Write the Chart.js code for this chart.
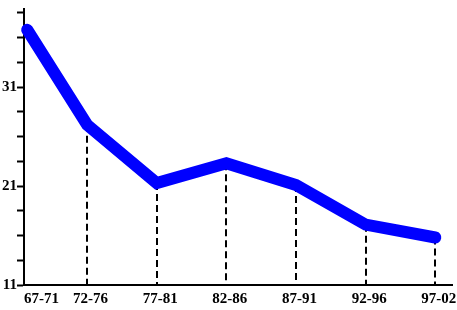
<!DOCTYPE html>
<html>
<head>
<meta charset="utf-8">
<script src="https://cdn.jsdelivr.net/npm/chart.js@4"></script>
<style>
  html, body { margin: 0; padding: 0; background: #fff; }
  #wrap { width: 457px; height: 310px; }
</style>
</head>
<body>
<div id="wrap"><canvas id="c"></canvas></div>
<script>
// periods and values
const periods = ["67-71", "72-76", "77-81", "82-86", "87-91", "92-96", "97-02"]
const periodX = [67.7, 72, 77, 82, 87, 92, 97]
const values = [36.8, 27.2, 21.3, 23.3, 21.1, 17.1, 15.8]
const yLabels = [11, 21, 31]

const font = { family: "'Liberation Serif', 'DejaVu Serif', serif", size: 15, weight: 'bold' }

// dashed drop lines from each point (except the first) down to the x axis
const dropLines = {
  id: 'dropLines',
  beforeDatasetsDraw(chart) {
    const ctx = chart.ctx
    const meta = chart.getDatasetMeta(0)
    const bottom = chart.chartArea.bottom
    ctx.save()
    ctx.strokeStyle = '#000'
    ctx.lineWidth = 2
    ctx.setLineDash([7, 4])
    meta.data.forEach((pt, i) => {
      if (i === 0) return
      ctx.beginPath()
      ctx.moveTo(Math.round(pt.x), pt.y)
      ctx.lineTo(Math.round(pt.x), bottom)
      ctx.stroke()
    })
    ctx.restore()
  }
}

new Chart(document.getElementById('c'), {
  type: 'line',
  data: {
    datasets: [{
      data: periodX.map((x, i) => ({ x: x, y: values[i] })),
      borderColor: '#0000ff',
      borderWidth: 12,
      borderCapStyle: 'round',
      borderJoinStyle: 'miter',
      pointRadius: 0,
      fill: false,
      tension: 0,
      clip: false
    }]
  },
  options: {
    responsive: true,
    maintainAspectRatio: false,
    animation: false,
    layout: { padding: { top: 9, right: 5, left: 0, bottom: 0 } },
    plugins: { legend: { display: false }, tooltip: { enabled: false } },
    scales: {
      x: {
        type: 'linear',
        min: 67.47,
        max: 98.2,
        // first label is pushed right so it does not cross the y axis
        afterBuildTicks: s => {
          s.ticks = periodX.map((v, i) => ({ value: i === 0 ? Math.max(v, s.min + 1.25) : v + 0.25 }))
        },
        afterFit: s => { s.height = 25; s.paddingLeft = 0; s.paddingRight = 0 },
        border: { color: '#000', width: 2 },
        grid: { display: true, drawOnChartArea: false, drawTicks: false },
        ticks: {
          color: '#000',
          font: font,
          padding: 5,
          maxRotation: 0,
          autoSkip: false,
          callback: (v, i) => periods[i]
        }
      },
      y: {
        min: 11,
        max: 38.9,
        afterBuildTicks: s => {
          const t = []
          for (let v = 11; v <= 38.5; v += 2.5) t.push({ value: v })
          s.ticks = t
        },
        afterFit: s => { s.width = 24 },
        border: { color: '#000', width: 2 },
        grid: { drawOnChartArea: false, tickLength: 7, tickColor: '#000', tickWidth: 2 },
        ticks: {
          color: '#000',
          font: font,
          padding: 0,
          autoSkip: false,
          callback: v => yLabels.includes(v) ? String(v) : ''
        }
      }
    }
  },
  plugins: [dropLines]
})
</script>
</body>
</html>
